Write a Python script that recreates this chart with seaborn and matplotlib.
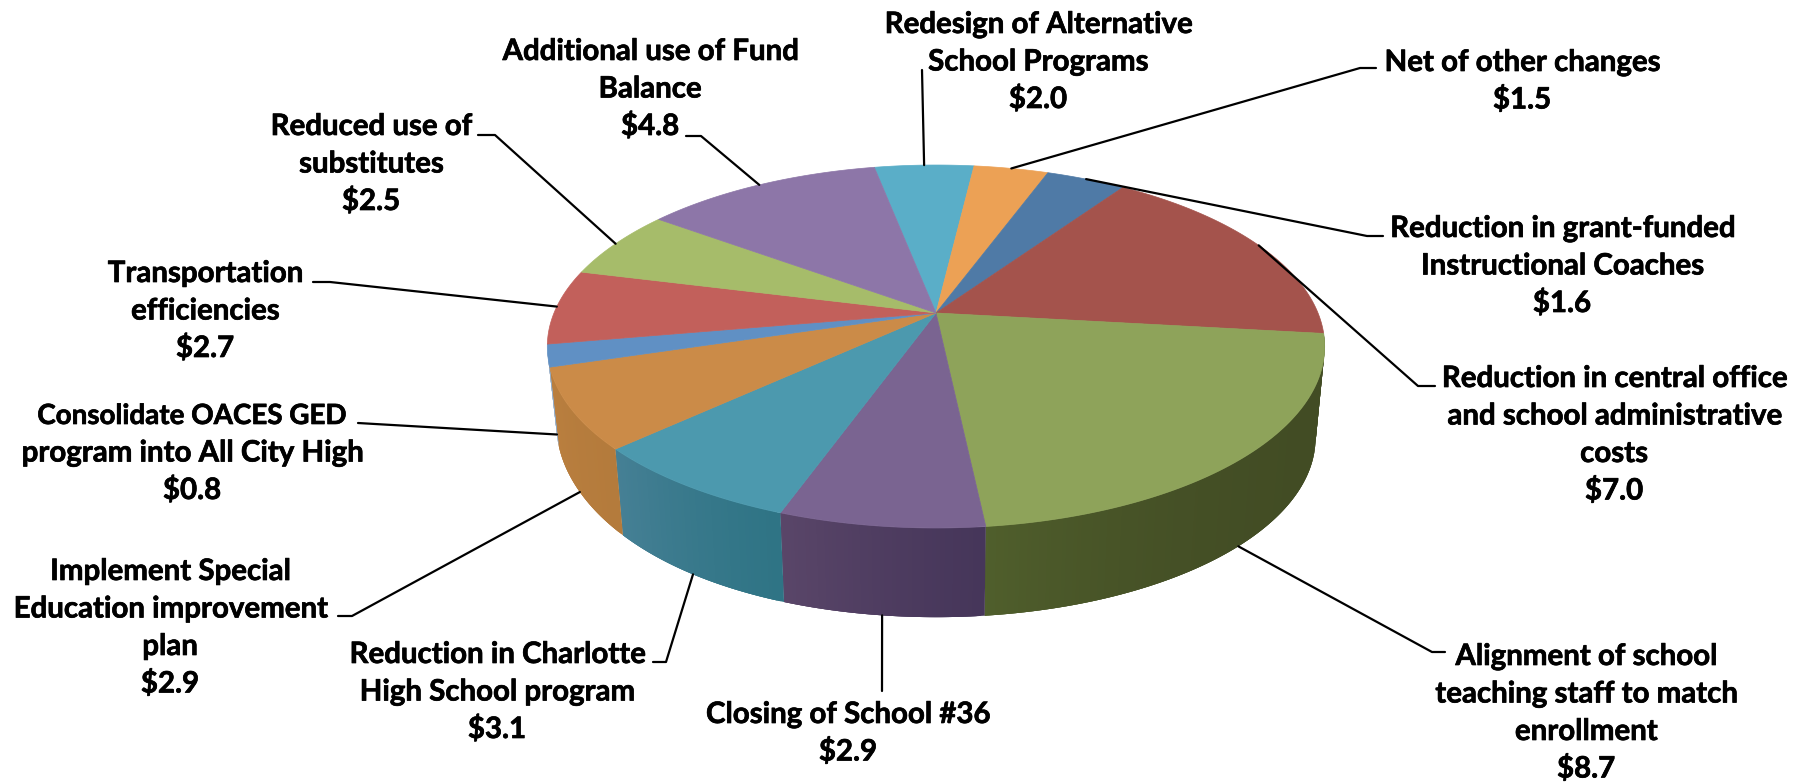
import numpy as np
import pandas as pd
import matplotlib
matplotlib.use("Agg")
import matplotlib.pyplot as plt
import matplotlib.patheffects as pe
import seaborn as sns

# Budget gap-closing items, clockwise from the first slice ($ millions)
item_lines = [
    ["Redesign of Alternative", "School Programs"],
    ["Net of other changes"],
    ["Reduction in grant-funded", "Instructional Coaches"],
    ["Reduction in central office", "and school administrative", "costs"],
    ["Alignment of school", "teaching staff to match", "enrollment"],
    ["Closing of School #36"],
    ["Reduction in Charlotte", "High School program"],
    ["Implement Special", "Education improvement", "plan"],
    ["Consolidate OACES GED", "program into All City High"],
    ["Transportation", "efficiencies"],
    ["Reduced use of", "substitutes"],
    ["Additional use of Fund", "Balance"],
]
amounts = [2.0, 1.5, 1.6, 7.0, 8.7, 2.9, 3.1, 2.9, 0.8, 2.7, 2.5, 4.8]

# Colours of slice tops and of the outer walls (screen-right and screen-left ends)
top_colors = ["#5aaec8", "#eca155", "#4f7aa6", "#a4534c", "#8ea35a", "#7a6491",
              "#4c99ae", "#cb8b48", "#6090c4", "#c2605b", "#a6bc6a", "#8d76a8"]
wall_right = ["#3b7b8e", "#b67c3e", "#3a5a7c", "#70362f", "#424c24", "#46365a",
              "#2f7485", "#b47b3c", "#8fa9c6", "#8a4540", "#75864a", "#5f4f78"]
wall_left = ["#3b7b8e", "#b67c3e", "#3a5a7c", "#70362f", "#505f2c", "#5a4669",
             "#468095", "#ba7f3f", "#8fa9c6", "#8a4540", "#75864a", "#5f4f78"]
wall_ease = [1.2, 1.2, 1.2, 1.2, 3.5, 1.2, 1.2, 1.2, 1.2, 1.2, 1.2, 1.2]

# Label placement: centre x, first-line centre y, optional elbow of the leader
label_x = [1038, 1522, 1562, 1614, 1586, 848, 497, 170, 192, 205, 371, 650]
label_y = [23, 61, 227, 377, 655, 713, 653, 570, 414, 272, 125, 50]
leader_elbows = [
    [(922, 70)],
    [(1376, 68), (1360, 68)],
    [(1383, 236), (1367, 236)],
    [(1435, 386), (1418, 386)],
    [(1445, 652), (1432, 652)],
    [(882, 691)],
    [(653, 662), (666, 662)],
    [(338, 616), (352, 616)],
    [(358, 423), (375, 424)],
    [(313, 282), (330, 282)],
    [(478, 135), (495, 135)],
    [(686, 136), (701, 136)],
]

# Perspective disc: top face and the slightly smaller bottom face
CX, TOP_CY, TOP_A, TOP_B = 936.0, 313.0, 382.0, 175.3
BOT_CY, BOT_A, BOT_B = 405.0, 373.0, 173.0
PERSP = 0.1846
START_DEG = -11.0
LINE_STEP = 37.5
WALL_RANGE = (96.5, 258.0)
FONT_SIZE = 21.2
CAPS_LINE_SIZE = 20.0


def top_rim(theta_deg):
    """Project the top edge; theta runs clockwise from the far side."""
    t = np.radians(theta_deg)
    u, v = np.sin(t), np.cos(t)
    den = 1 + PERSP * v
    return CX + TOP_A * u / den, TOP_CY - TOP_B * v / den


def bottom_rim(theta_deg):
    """Project the bottom edge; its far-left run sits a little higher."""
    t = np.radians(theta_deg)
    u, v = np.sin(t), np.cos(t)
    den = 1 + PERSP * v
    lift = 14 * np.where(u < 0, u, 0) ** 4
    return CX + BOT_A * u / den, BOT_CY - BOT_B * v / den - lift


sns.set_theme(style="white")
plt.rcParams["font.family"] = ["Lato", "DejaVu Sans"]

df = pd.DataFrame({"amount": amounts})
df["sweep"] = df["amount"] / df["amount"].sum() * 360.0
df["end"] = START_DEG + df["sweep"].cumsum()
df["start"] = df["end"] - df["sweep"]
df["mid"] = (df["start"] + df["end"]) / 2
top_pal = sns.color_palette(top_colors)
right_pal = sns.color_palette(wall_right)
left_pal = sns.color_palette(wall_left)

fig, ax = plt.subplots(figsize=(18.04, 7.83), dpi=100)
fig.subplots_adjust(0, 0, 1, 1)
ax.set_xlim(0, 1804)
ax.set_ylim(783, 0)
ax.axis("off")

# Outer wall as overlapping strips, each painted over the one before it
for i, row in df.iterrows():
    lo_deg = max(row["start"], WALL_RANGE[0])
    hi_deg = min(row["end"], WALL_RANGE[1])
    if hi_deg <= lo_deg:
        continue
    for lo in np.arange(lo_deg, hi_deg, 0.5):
        hi = min(lo + 1.5, hi_deg)
        thetas = np.linspace(lo, hi, 6)
        xt, yt = top_rim(thetas)
        xb, yb = bottom_rim(thetas[::-1])
        frac = ((lo - row["start"]) / row["sweep"]) ** wall_ease[i]
        color = np.array(right_pal[i]) + (np.array(left_pal[i]) - np.array(right_pal[i])) * frac
        ax.fill(np.r_[xt, xb], np.r_[yt, yb], facecolor=color, edgecolor="none", zorder=2)

# Slice tops
for i, row in df.iterrows():
    thetas = np.linspace(row["start"], row["end"], 80)
    xs, ys = top_rim(thetas)
    ax.fill(np.r_[CX, xs], np.r_[TOP_CY, ys], facecolor=top_pal[i],
            edgecolor=top_pal[i], linewidth=0.5, zorder=3)

# Leaders run from the label elbow to the rim at the middle of each slice
for i, row in df.iterrows():
    mid = row["mid"]
    ex, ey = bottom_rim(mid) if 120 < (mid % 360) < 265 else top_rim(mid)
    pts = leader_elbows[i] + [(float(ex), float(ey))]
    sns.lineplot(x=[p[0] for p in pts], y=[p[1] for p in pts], sort=False,
                 estimator=None, color="black", linewidth=1.6, ax=ax,
                 legend=False, zorder=4)

# Labels, each closed by its dollar amount; capital-heavy lines run wide in Lato
for i, lines in enumerate(item_lines):
    rows = lines + [f"${amounts[i]:.1f}"]
    for n, line in enumerate(rows):
        size = CAPS_LINE_SIZE if "OACES" in line else FONT_SIZE
        ax.text(label_x[i], label_y[i] + n * LINE_STEP + 10, line, ha="center",
                va="baseline", fontsize=size, fontweight="bold", color="black", zorder=5,
                path_effects=[pe.withStroke(linewidth=0.5, foreground="black")])

ax.set_xlabel("")
ax.set_ylabel("")
ax.set_xlim(0, 1804)
ax.set_ylim(783, 0)
fig.savefig("out.png", dpi=100, facecolor="white")
